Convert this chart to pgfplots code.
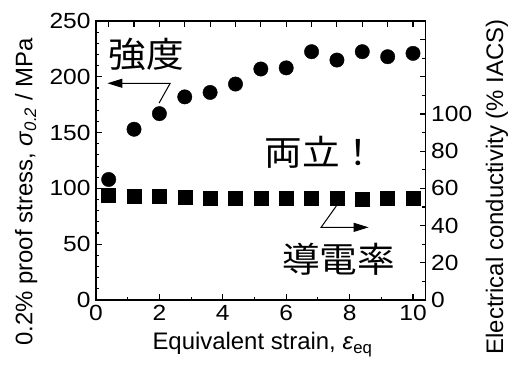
\documentclass[border=0pt]{standalone}
\usepackage{fontspec}
\setmainfont{Liberation Sans}
\newfontfamily\tickfont{Liberation Sans}[FakeStretch=1.12]
\newfontfamily\cjk{Noto Sans CJK JP}[FakeStretch=1.08]
\usepackage{pgfplots}
\usepackage{pgfplotstable}
\pgfplotsset{compat=1.18}
\usetikzlibrary{arrows.meta}

\pgfplotstableread{
x y
0.4 108
1.2 153
2.0 167
2.8 182
3.6 186
4.4 193.5
5.2 207
6.0 208
6.8 222.5
7.6 215
8.4 222.5
9.2 218
10.0 221
}\stress

\pgfplotstableread{
x y
0.4 56.1
1.2 55.9
2.0 55.9
2.8 55.5
3.6 55.0
4.4 55.0
5.2 54.5
6.0 54.7
6.8 54.5
7.6 54.5
8.4 54.3
9.2 54.5
10.0 54.5
}\cond

\pgfplotsset{
  common/.style={
    scale only axis, width=329.7bp, height=279bp,
    xmin=0, xmax=10.4,
    axis line style={line width=1.5bp},
    every tick/.style={line width=1.1bp, black},
    tick align=inside,
    major tick length=6bp, minor tick length=3.5bp,
    /pgf/number format/assume math mode=true,
    tick label style={font=\tickfont\fontsize{22}{26}\selectfont},
    label style={font=\fontsize{24}{28}\selectfont},
    clip=false,
  }
}

\begin{document}
\begin{tikzpicture}
\begin{axis}[common, name=ax,
  ymin=0, ymax=250,
  xtick={0,2,...,10}, minor xtick={1,3,...,9},
  xtick pos=left, ytick pos=left,
  ytick={0,50,...,250}, minor y tick num=4,
  xticklabel style={yshift=-2bp},
  yticklabel style={xshift=-2bp},
  xlabel={Equivalent strain, \textit{ε}\textsubscript{eq}},
  ylabel={0.2\% proof stress, \textit{σ}\textsubscript{\textit{0.2}} / MPa},
  xlabel style={at={(axis description cs:0.505,-0.179)}, anchor=base},
  ylabel style={at={(axis description cs:-0.212,0.387)}, anchor=center},
]
\addplot[only marks, mark=*, mark size=7.2bp, black] table[x=x,y=y] {\stress};
\draw[line width=1bp, -{Triangle[length=15bp,width=9bp]}] (axis cs:1.99,176.5) -- (axis cs:2.34,194.2) -- (axis cs:0.36,194.2);
\draw[line width=1bp, -{Triangle[length=15bp,width=9bp]}] (axis cs:7.58,84.2) -- (axis cs:7.1,65.1) -- (axis cs:8.6,65.1);
\node[font=\cjk\fontsize{35}{40}\selectfont, inner sep=0pt] at (axis cs:1.58,220.4) {強度};
\node[font=\cjk\fontsize{35}{40}\selectfont, inner sep=0pt] at (axis cs:7.1,132.6) {両立！};
\node[font=\cjk\fontsize{35}{40}\selectfont, inner sep=0pt] at (axis cs:7.65,36.6) {導電率};
\end{axis}
\begin{axis}[common,
  ymin=0, ymax=150,
  xtick={0.4,1.2,2.0,2.8,3.6,4.4,5.2,6.0,6.8,7.6,8.4,9.2,10.0},
  xticklabels={},
  xtick pos=right, ytick pos=right, yticklabel pos=right,
  ytick={0,20,...,140}, yticklabels={0,20,40,60,80,100,{},{}},
  minor ytick={10,30,...,150},
  yticklabel style={xshift=2bp},
  ylabel={Electrical conductivity (\% IACS)},
  ylabel style={at={(axis description cs:1.216,0.405)}, anchor=center},
]
\addplot[only marks, mark=square*, mark size=7bp, black] table[x=x,y=y] {\cond};
\end{axis}
\pgfresetboundingbox
\path[use as bounding box] ([shift={(-96bp,-68bp)}]ax.south west) rectangle ([shift={(84.3bp,21bp)}]ax.north east);
\end{tikzpicture}
\end{document}
